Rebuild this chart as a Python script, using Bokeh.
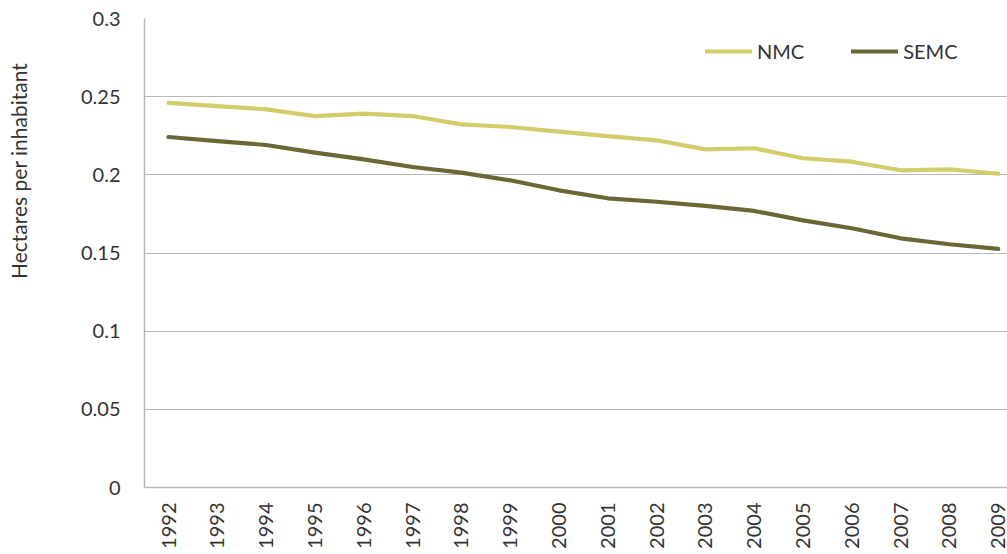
import math
from bokeh.plotting import figure
from bokeh.layouts import row
from bokeh.models import Range1d, FixedTicker, Label, Legend, LegendItem
from bokeh.embed import file_html
from bokeh.resources import INLINE

years = list(range(1992, 2010))
nmc = [0.2460, 0.2440, 0.2419, 0.2376, 0.2391, 0.2376, 0.2323, 0.2306, 0.2276,
       0.2248, 0.2221, 0.2163, 0.2170, 0.2106, 0.2084, 0.2029, 0.2035, 0.2007]
semc = [0.2242, 0.2216, 0.2191, 0.2142, 0.2099, 0.2050, 0.2014, 0.1965, 0.1901,
        0.1850, 0.1828, 0.1801, 0.1769, 0.1709, 0.1658, 0.1594, 0.1556, 0.1526]
y_ticks = [0, 0.05, 0.1, 0.15, 0.2, 0.25, 0.3]
y_tick_labels = ["0", "0.05", "0.1", "0.15", "0.2", "0.25", "0.3"]
series_names = ["NMC", "SEMC"]
y_title = "Hectares per inhabitant"

FONT = "Lato"
TXT = "#333333"
GRID = "#b8b8b8"

W_T = 40          # width of the strip holding the vertical axis title
H = 554

# --- strip with the y-axis title -------------------------------------------
t = figure(width=W_T, height=H, output_backend="svg", toolbar_location=None,
           x_range=Range1d(0, W_T), y_range=Range1d(0, H),
           min_border=0, x_axis_type=None, y_axis_type=None)
t.outline_line_color = None
t.grid.grid_line_color = None
t.background_fill_color = "white"
t.border_fill_color = "white"
t.add_layout(Label(x=17.5, y=H - 180, text=y_title, angle=math.pi / 2,
                   text_align="center", text_baseline="middle", text_font=FONT,
                   text_font_size="21px", text_color=TXT))

# --- main chart ---------------------------------------------------------------
X0, X1 = 1991.508, 2009.19
p = figure(width=1007 - W_T, height=H, output_backend="svg", toolbar_location=None,
           x_range=Range1d(X0, X1), y_range=Range1d(0, 0.3),
           min_border_left=144 - W_T, min_border_right=0, min_border_top=18,
           min_border_bottom=67)
p.outline_line_color = None
p.background_fill_color = "white"
p.border_fill_color = "white"

r1 = p.line(years, nmc, line_color="#d3cc6b", line_width=4.2, line_join="round", line_cap="round")
r2 = p.line(years, semc, line_color="#696834", line_width=4.2, line_join="round", line_cap="round")

# x axis
p.xaxis.ticker = FixedTicker(ticks=years)
p.xaxis.major_label_orientation = math.pi / 2
p.xaxis.major_tick_line_color = None
p.xaxis.minor_tick_line_color = None
p.xaxis.major_tick_out = 0
p.xaxis.major_label_standoff = 15
p.xaxis.axis_line_color = GRID
p.xaxis.axis_line_width = 1.5
p.xaxis.major_label_text_font = FONT
p.xaxis.major_label_text_font_size = "20px"
p.xaxis.major_label_text_color = TXT

# y axis
p.yaxis.ticker = FixedTicker(ticks=y_ticks)
p.yaxis.major_label_overrides = dict(zip(y_ticks, y_tick_labels))
p.yaxis.major_tick_line_color = None
p.yaxis.minor_tick_line_color = None
p.yaxis.major_tick_out = 0
p.yaxis.major_label_standoff = 24
p.yaxis.axis_line_color = GRID
p.yaxis.axis_line_width = 1.5
p.yaxis.major_label_text_font = FONT
p.yaxis.major_label_text_font_size = "20px"
p.yaxis.major_label_text_color = TXT

p.xgrid.grid_line_color = None
p.ygrid.ticker = FixedTicker(ticks=y_ticks)
p.ygrid.grid_line_color = GRID
p.ygrid.grid_line_width = 1.2

legend = Legend(items=[LegendItem(label=series_names[0], renderers=[r1]),
                       LegendItem(label=series_names[1], renderers=[r2])],
                orientation="horizontal", location=(561, 424),
                padding=0, margin=0, spacing=47, label_standoff=5,
                glyph_width=47, glyph_height=20,
                border_line_color=None, background_fill_alpha=0,
                label_text_font=FONT, label_text_font_size="20px",
                label_text_color=TXT)
p.add_layout(legend)

layout = row(t, p, spacing=0)
open("out.html", "w").write(file_html(layout, INLINE))
